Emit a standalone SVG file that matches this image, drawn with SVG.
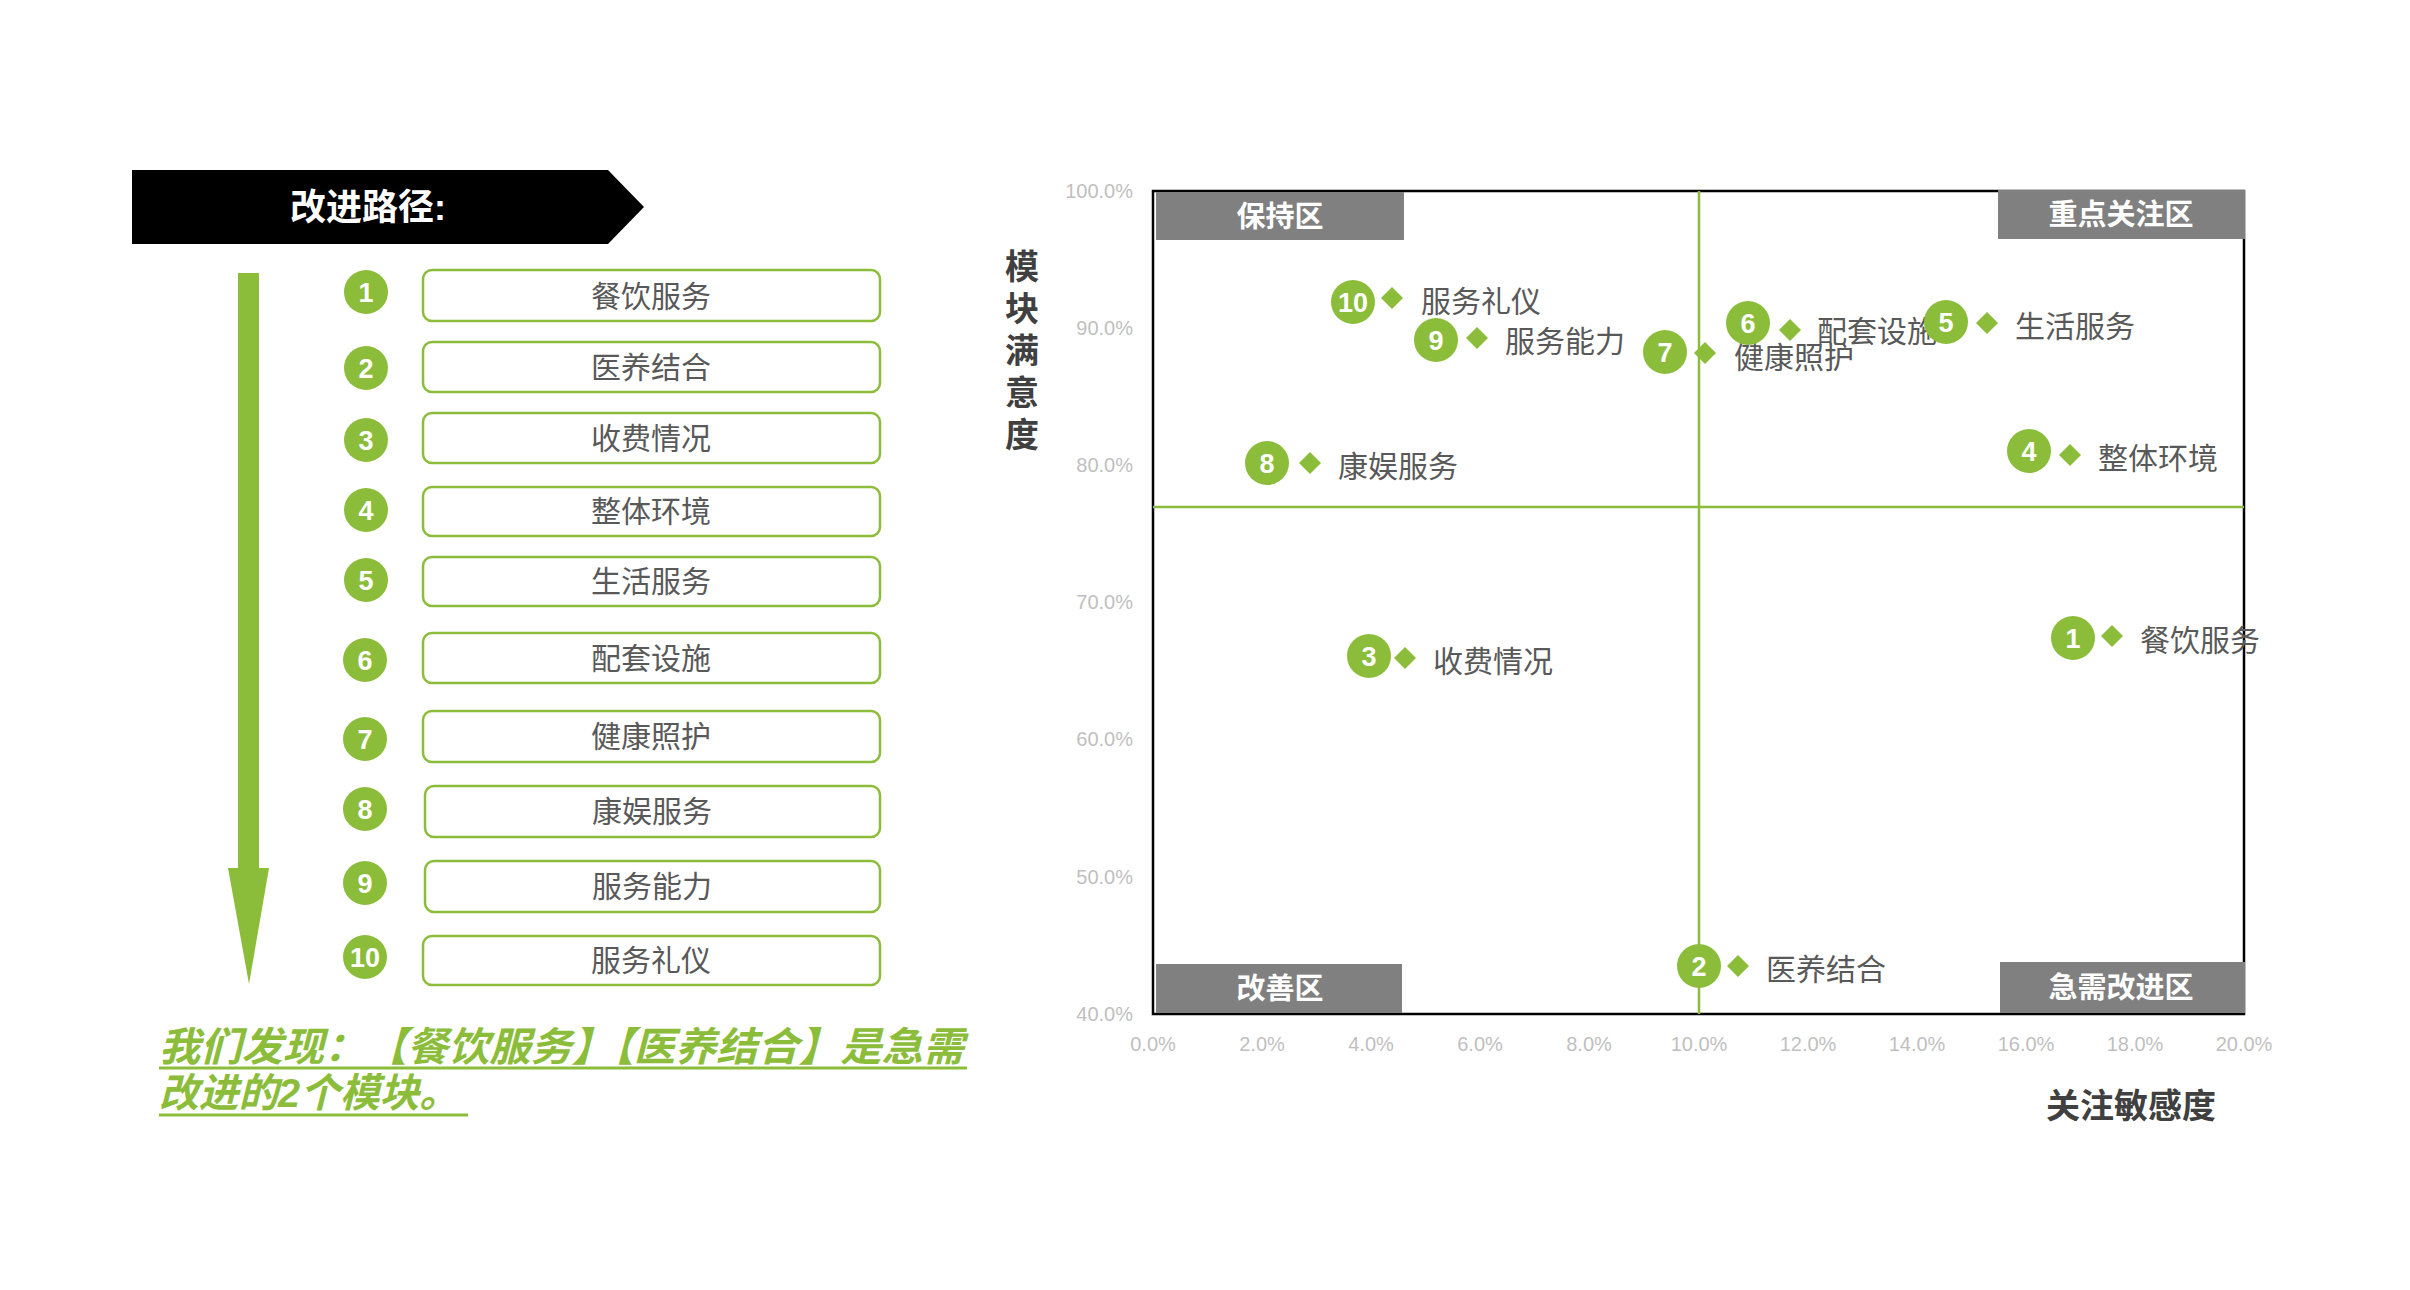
<svg xmlns="http://www.w3.org/2000/svg" width="2410" height="1290" viewBox="0 0 2410 1290">
<defs>
<style>
text{font-family:"Liberation Sans","Noto Sans CJK SC",sans-serif;}
.num{fill:#8bbd3a;}
.numt{fill:#fff;font-weight:bold;font-size:27px;text-anchor:middle;dominant-baseline:central;}
.box{fill:#fff;stroke:#8bbd3a;stroke-width:2.5;}
.boxt{fill:#595959;font-size:30px;text-anchor:middle;dominant-baseline:central;}
.lbl{fill:#595959;font-size:30px;dominant-baseline:central;}
.dia{fill:#8bbd3a;}
.tick{fill:#bfbfbf;font-size:20px;dominant-baseline:central;}
.qr{fill:#808080;}
.qt{fill:#fff;font-weight:bold;font-size:29px;text-anchor:middle;dominant-baseline:central;}
.grn{stroke:#8bbd3a;stroke-width:2.5;fill:none;}
.axt{fill:#404040;font-weight:bold;font-size:34px;text-anchor:middle;dominant-baseline:central;}
</style>
<polygon id="dm" points="0,-11 11,0 0,11 -11,0"/>
</defs>
<rect width="2410" height="1290" fill="#fff"/>

<g id="title">
<polygon points="132,170 608,170 644,207 608,244 132,244" fill="#000"/>
<text x="290" y="207" fill="#fff" font-size="36" font-weight="bold" dominant-baseline="central">改进路径:</text>
</g>

<g id="connectors">
<rect x="238" y="273" width="21" height="600" fill="#8bbd3a"/>
<polygon points="228,868 269,868 249,984" fill="#8bbd3a"/>
</g>

<g id="step1"><circle class="num" cx="366" cy="292" r="22"/><text class="numt" x="366" y="293">1</text><rect class="box" x="423" y="270" width="457" height="51" rx="9"/><text class="boxt" x="651" y="296">餐饮服务</text></g>
<g id="step2"><circle class="num" cx="366" cy="368" r="22"/><text class="numt" x="366" y="369">2</text><rect class="box" x="423" y="342" width="457" height="50" rx="9"/><text class="boxt" x="651" y="367">医养结合</text></g>
<g id="step3"><circle class="num" cx="366" cy="440" r="22"/><text class="numt" x="366" y="441">3</text><rect class="box" x="423" y="413" width="457" height="50" rx="9"/><text class="boxt" x="651" y="438">收费情况</text></g>
<g id="step4"><circle class="num" cx="366" cy="510" r="22"/><text class="numt" x="366" y="511">4</text><rect class="box" x="423" y="487" width="457" height="49" rx="9"/><text class="boxt" x="651" y="511">整体环境</text></g>
<g id="step5"><circle class="num" cx="366" cy="580" r="22"/><text class="numt" x="366" y="581">5</text><rect class="box" x="423" y="557" width="457" height="49" rx="9"/><text class="boxt" x="651" y="581">生活服务</text></g>
<g id="step6"><circle class="num" cx="365" cy="660" r="22"/><text class="numt" x="365" y="661">6</text><rect class="box" x="423" y="633" width="457" height="50" rx="9"/><text class="boxt" x="651" y="658">配套设施</text></g>
<g id="step7"><circle class="num" cx="365" cy="739" r="22"/><text class="numt" x="365" y="740">7</text><rect class="box" x="423" y="711" width="457" height="51" rx="9"/><text class="boxt" x="651" y="736">健康照护</text></g>
<g id="step8"><circle class="num" cx="365" cy="809" r="22"/><text class="numt" x="365" y="810">8</text><rect class="box" x="425" y="786" width="455" height="51" rx="9"/><text class="boxt" x="652" y="811">康娱服务</text></g>
<g id="step9"><circle class="num" cx="365" cy="883" r="22"/><text class="numt" x="365" y="884">9</text><rect class="box" x="425" y="861" width="455" height="51" rx="9"/><text class="boxt" x="652" y="886">服务能力</text></g>
<g id="step10"><circle class="num" cx="365" cy="957" r="22"/><text class="numt" x="365" y="958" font-size="25">10</text><rect class="box" x="423" y="936" width="457" height="49" rx="9"/><text class="boxt" x="651" y="960">服务礼仪</text></g>

<g id="conclusion" fill="#8bbd3a" font-size="40" font-weight="bold" font-style="italic">
<text x="159" y="1061" textLength="805" lengthAdjust="spacingAndGlyphs">我们发现：【餐饮服务】【医养结合】是急需</text>
<text x="159" y="1107" textLength="300" lengthAdjust="spacingAndGlyphs">改进的2个模块。</text>
<line x1="159" y1="1068" x2="967" y2="1068" stroke="#8bbd3a" stroke-width="3"/>
<line x1="159" y1="1115" x2="468" y2="1115" stroke="#8bbd3a" stroke-width="3"/>
</g>

<g id="chart-axes">
<rect x="1153" y="191" width="1091" height="823" fill="none" stroke="#000" stroke-width="2.5"/>
<line class="grn" x1="1699" y1="191" x2="1699" y2="1014"/>
<line class="grn" x1="1153" y1="507" x2="2244" y2="507"/>
<g text-anchor="end">
<text class="tick" x="1133" y="191">100.0%</text>
<text class="tick" x="1133" y="328">90.0%</text>
<text class="tick" x="1133" y="465">80.0%</text>
<text class="tick" x="1133" y="602">70.0%</text>
<text class="tick" x="1133" y="739">60.0%</text>
<text class="tick" x="1133" y="877">50.0%</text>
<text class="tick" x="1133" y="1014">40.0%</text>
</g>
<g text-anchor="middle">
<text class="tick" x="1153" y="1044">0.0%</text>
<text class="tick" x="1262" y="1044">2.0%</text>
<text class="tick" x="1371" y="1044">4.0%</text>
<text class="tick" x="1480" y="1044">6.0%</text>
<text class="tick" x="1589" y="1044">8.0%</text>
<text class="tick" x="1699" y="1044">10.0%</text>
<text class="tick" x="1808" y="1044">12.0%</text>
<text class="tick" x="1917" y="1044">14.0%</text>
<text class="tick" x="2026" y="1044">16.0%</text>
<text class="tick" x="2135" y="1044">18.0%</text>
<text class="tick" x="2244" y="1044">20.0%</text>
</g>
<g class="axt">
<text class="axt" x="1022" y="267">模</text>
<text class="axt" x="1022" y="309">块</text>
<text class="axt" x="1022" y="351">满</text>
<text class="axt" x="1022" y="393">意</text>
<text class="axt" x="1022" y="435">度</text>
</g>
<text class="axt" x="2131" y="1106">关注敏感度</text>
</g>

<g id="zone-keep"><rect class="qr" x="1156" y="192" width="248" height="48"/><text class="qt" x="1280" y="217">保持区</text></g>
<g id="zone-focus"><rect class="qr" x="1998" y="190" width="247" height="49"/><text class="qt" x="2121" y="215">重点关注区</text></g>
<g id="zone-improve"><rect class="qr" x="1156" y="964" width="246" height="49"/><text class="qt" x="1280" y="989">改善区</text></g>
<g id="zone-urgent"><rect class="qr" x="2000" y="962" width="245" height="51"/><text class="qt" x="2121" y="988">急需改进区</text></g>

<g id="pt10"><circle class="num" cx="1353" cy="302" r="22"/><text class="numt" x="1353" y="303" font-size="25">10</text><use href="#dm" class="dia" x="1392" y="298"/><text class="lbl" x="1421" y="301">服务礼仪</text></g>
<g id="pt9"><circle class="num" cx="1436" cy="340" r="22"/><text class="numt" x="1436" y="341">9</text><use href="#dm" class="dia" x="1477" y="338"/><text class="lbl" x="1505" y="341">服务能力</text></g>
<g id="pt8"><circle class="num" cx="1267" cy="463" r="22"/><text class="numt" x="1267" y="464">8</text><use href="#dm" class="dia" x="1310" y="463"/><text class="lbl" x="1338" y="466">康娱服务</text></g>
<g id="pt7"><circle class="num" cx="1665" cy="352" r="22"/><text class="numt" x="1665" y="353">7</text><use href="#dm" class="dia" x="1705" y="353"/><text class="lbl" x="1734" y="357">健康照护</text></g>
<g id="pt6"><circle class="num" cx="1748" cy="323" r="22"/><text class="numt" x="1748" y="324">6</text><use href="#dm" class="dia" x="1790" y="330"/><text class="lbl" x="1817" y="331">配套设施</text></g>
<g id="pt5"><circle class="num" cx="1946" cy="322" r="22"/><text class="numt" x="1946" y="323">5</text><use href="#dm" class="dia" x="1987" y="323"/><text class="lbl" x="2015" y="326">生活服务</text></g>
<g id="pt4"><circle class="num" cx="2029" cy="451" r="22"/><text class="numt" x="2029" y="452">4</text><use href="#dm" class="dia" x="2070" y="455"/><text class="lbl" x="2098" y="458">整体环境</text></g>
<g id="pt3"><circle class="num" cx="1369" cy="656" r="22"/><text class="numt" x="1369" y="657">3</text><use href="#dm" class="dia" x="1405" y="658"/><text class="lbl" x="1433" y="661">收费情况</text></g>
<g id="pt2"><circle class="num" cx="1699" cy="966" r="22"/><text class="numt" x="1699" y="967">2</text><use href="#dm" class="dia" x="1738" y="966"/><text class="lbl" x="1766" y="969">医养结合</text></g>
<g id="pt1"><circle class="num" cx="2073" cy="638" r="22"/><text class="numt" x="2073" y="639">1</text><use href="#dm" class="dia" x="2112" y="636"/><text class="lbl" x="2140" y="640">餐饮服务</text></g>
</svg>
